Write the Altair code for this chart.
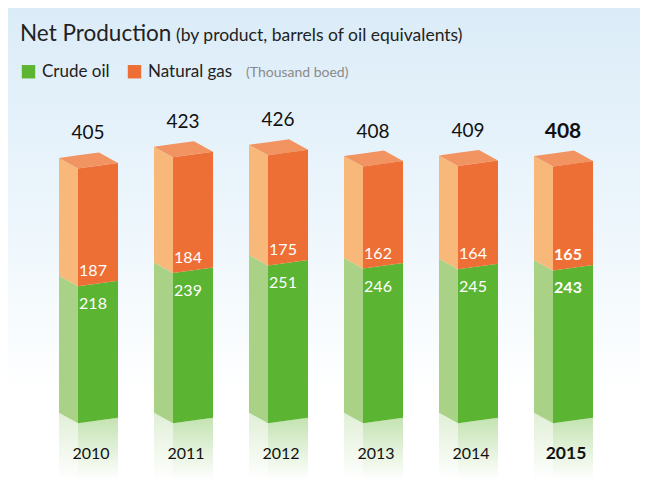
import altair as alt
import pandas as pd

# ---- data ----
years = [2010, 2011, 2012, 2013, 2014, 2015]
crude_oil = [218, 239, 251, 246, 245, 243]
natural_gas = [187, 184, 175, 162, 164, 165]
series_names = ["Crude oil", "Natural gas"]
highlight_year = 2015

# ---- styling / geometry (not data) ----
W, H = 632, 472
Y_MIN, Y_MAX = -90, 660
PX = H / (Y_MAX - Y_MIN)          # pixels per data unit
STEP = 95                          # pixels between bar centres
X0, X1 = -90 / STEP, (W - 90) / STEP
FRONT_HALF, SIDE_W = 20, 19
FRONT_RISE, SIDE_RISE = 5.5, 10.5
FONT = "Lato"

GREEN_FRONT, GREEN_SIDE = "#5bb432", "#a9d287"
ORANGE_FRONT, ORANGE_SIDE, ORANGE_TOP = "#ee6f35", "#f7b879", "#f19461"


def ux(px):
    return px / STEP


def uy(px):
    return px / PX


faces, refl = [], []
for i, (yr, c, g) in enumerate(zip(years, crude_oil, natural_gas)):
    total = c + g
    segs = [("Crude oil", 0, c, GREEN_FRONT, GREEN_SIDE),
            ("Natural gas", c, total, ORANGE_FRONT, ORANGE_SIDE)]
    for name, a, b, fcol, scol in segs:
        pid = f"{yr}-{name}"
        # front face
        faces.append(dict(poly=pid + "-f", face="front", series=name, hex=fcol,
                          x=i + ux(-FRONT_HALF), y=b, y2=a))
        faces.append(dict(poly=pid + "-f", face="front", series=name, hex=fcol,
                          x=i + ux(FRONT_HALF), y=b + uy(FRONT_RISE), y2=a + uy(FRONT_RISE)))
        # side face
        faces.append(dict(poly=pid + "-s", face="side", series=name, hex=scol,
                          x=i + ux(-FRONT_HALF - SIDE_W), y=b + uy(SIDE_RISE), y2=a + uy(SIDE_RISE)))
        faces.append(dict(poly=pid + "-s", face="side", series=name, hex=scol,
                          x=i + ux(-FRONT_HALF), y=b, y2=a))
    # top face (parallelogram)
    pid = f"{yr}-top"
    back_rise = SIDE_RISE + FRONT_RISE
    xl, xf, xb, xr = -FRONT_HALF - SIDE_W, -FRONT_HALF, -FRONT_HALF - SIDE_W + 2 * FRONT_HALF, FRONT_HALF
    pts = [
        (xl, SIDE_RISE, SIDE_RISE),
        (xf, SIDE_RISE + (back_rise - SIDE_RISE) * (xf - xl) / (xb - xl), 0),
        (xb, back_rise, FRONT_RISE * (xb - xf) / (xr - xf)),
        (xr, FRONT_RISE, FRONT_RISE),
    ]
    for px_, top, bot in pts:
        faces.append(dict(poly=pid, face="top", series="Natural gas", hex=ORANGE_TOP,
                          x=i + ux(px_), y=total + uy(top), y2=total + uy(bot)))
    # reflections
    refl.append(dict(poly=f"{yr}-rf", kind="front", x=i + ux(-FRONT_HALF), y=0, y2=Y_MIN))
    refl.append(dict(poly=f"{yr}-rf", kind="front", x=i + ux(FRONT_HALF), y=uy(FRONT_RISE), y2=Y_MIN))
    refl.append(dict(poly=f"{yr}-rs", kind="side", x=i + ux(-FRONT_HALF - SIDE_W), y=uy(SIDE_RISE), y2=Y_MIN))
    refl.append(dict(poly=f"{yr}-rs", kind="side", x=i + ux(-FRONT_HALF), y=0, y2=Y_MIN))

faces = pd.DataFrame(faces)
refl = pd.DataFrame(refl)

xsc = alt.Scale(domain=[X0, X1], nice=False, zero=False)
ysc = alt.Scale(domain=[Y_MIN, Y_MAX], nice=False, zero=False)
X = alt.X("x:Q", scale=xsc, axis=None)
Y = alt.Y("y:Q", scale=ysc, axis=None, stack=False)


def grad(stops):
    return alt.LinearGradient(
        gradient="linear", x1=0, x2=0, y1=0, y2=1,
        stops=[alt.GradientStop(color=c, offset=o) for o, c in stops])


background = alt.Chart(pd.DataFrame({"k": [0]})).mark_rect(
    color=grad([(0, "#dbecf8"), (0.45, "#edf6fc"), (0.82, "#ffffff"), (1, "#ffffff")])
).encode(x=alt.value(0), x2=alt.value(W), y=alt.value(0), y2=alt.value(H))

refl_front = alt.Chart(refl).transform_filter("datum.kind == 'front'").mark_area(
    color=grad([(0, "#c4e3b2"), (1, "#ffffff")]), opacity=1
).encode(x=X, y=Y, y2="y2:Q", detail="poly:N")

refl_side = alt.Chart(refl).transform_filter("datum.kind == 'side'").mark_area(
    color=grad([(0, "#e0efd6"), (1, "#ffffff")]), opacity=1
).encode(x=X, y=Y, y2="y2:Q", detail="poly:N")

side = alt.Chart(faces).transform_filter("datum.face != 'front'").mark_area(opacity=1).encode(
    x=X, y=Y, y2="y2:Q", detail="poly:N", fill=alt.Fill("hex:N", scale=None))

front = alt.Chart(faces).transform_filter("datum.face == 'front'").mark_area(opacity=1).encode(
    x=X, y=Y, y2="y2:Q", detail="poly:N",
    color=alt.Color("series:N",
                    scale=alt.Scale(domain=series_names, range=[GREEN_FRONT, ORANGE_FRONT]),
                    legend=alt.Legend(title=None, orient="none", legendX=12, legendY=55,
                                      direction="horizontal", symbolType="square",
                                      symbolSize=180, symbolStrokeWidth=0, symbolOpacity=1,
                                      labelFont=FONT, labelFontSize=17, labelColor="#222222",
                                      columnPadding=16, labelOffset=5)))

labels = pd.DataFrame({
    "year": years,
    "crude": crude_oil,
    "gas": natural_gas,
})
labels["total"] = labels["crude"] + labels["gas"]
labels["i"] = range(len(years))
labels["hl"] = labels["year"] == highlight_year


def text_layer(field_text, field_y, xoff, dy, size, color, bold, base_y=None):
    df = labels.copy()
    df["x"] = df["i"] + ux(xoff)
    df["y"] = df[field_y] if base_y is None else base_y
    df["t"] = df[field_text].astype(str)
    df = df[df["hl"] == bold]
    return alt.Chart(df).mark_text(
        dy=dy, baseline="middle", align="center", font=FONT, fontSize=size,
        fontWeight="bold" if bold else "normal", color=color
    ).encode(x=X, y=Y, text="t:N")


texts = []
for bold in (False, True):
    texts.append(text_layer("total", "total", -10, -35, 21 if bold else 19, "#111111", bold))
    texts.append(text_layer("gas", "crude", -5, -15, 16, "#ffffff", bold))
    texts.append(text_layer("crude", "crude", -5, 18, 16, "#ffffff", bold))
    texts.append(text_layer("year", "total", -7, 31, 17.5 if bold else 16, "#111111", bold, base_y=0))

one = pd.DataFrame({"k": [0]})
title_main = alt.Chart(one).mark_text(align="left", baseline="alphabetic", font=FONT,
                                      fontSize=22.5, color="#222222").encode(
    x=alt.value(12), y=alt.value(33), text=alt.value("Net Production"))
title_sub = alt.Chart(one).mark_text(align="left", baseline="alphabetic", font=FONT,
                                     fontSize=17.5, color="#222222").encode(
    x=alt.value(168), y=alt.value(33), text=alt.value("(by product, barrels of oil equivalents)"))
unit_note = alt.Chart(one).mark_text(align="left", baseline="alphabetic", font=FONT,
                                     fontSize=14, color="#8a8a8a").encode(
    x=alt.value(238), y=alt.value(69), text=alt.value("(Thousand boed)"))

chart = alt.layer(
    background, refl_front, refl_side, side, front, *texts, title_main, title_sub, unit_note
).properties(width=W, height=H, padding=0, autosize="none").configure_view(strokeWidth=0)

chart.save("out.html", embed_options={"renderer": "svg", "actions": False})
